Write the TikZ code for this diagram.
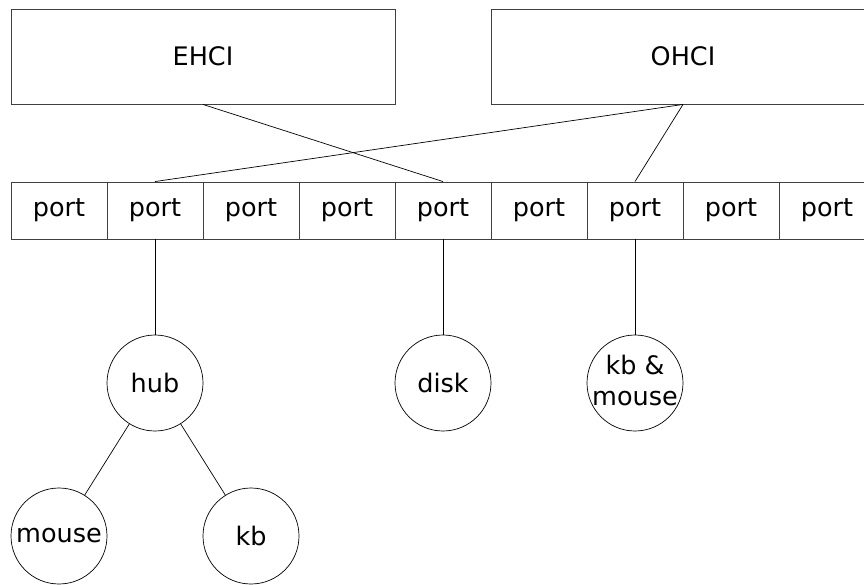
\documentclass[tikz,border=0pt]{standalone}
\usepackage{fontspec}
\setmainfont{DejaVu Sans}
\begin{document}
\begin{tikzpicture}[x=1pt,y=1pt,
  every node/.style={font=\fontsize{25.5}{31}\selectfont},
  hc/.style={draw=black!75,line width=0.9pt,minimum width=384pt,minimum height=95pt,inner sep=0pt},
  portbox/.style={draw=black!75,line width=0.9pt,minimum width=96pt,minimum height=57pt,inner sep=0pt},
  dev/.style={draw=black,line width=0.7pt,circle,minimum size=96pt,inner sep=0pt},
  wire/.style={draw=black,line width=0.7pt}]
\useasboundingbox (0,0) rectangle (864,-584);
\node[hc] (ehci) at (203,-56.5) {EHCI};
\node[hc] (ohci) at (683,-56.5) {OHCI};
\foreach \i in {1,...,9}{
  \node[portbox] (p\i) at ({59+96*(\i-1)},-210.5) {port};
}
\node[dev] (hub) at (155,-383) {hub};
\node[dev] (disk) at (443,-383) {disk};
\node[dev,label={[align=center,yshift=3pt,font=\fontsize{25.5}{31}\selectfont]center:kb \&\\mouse}] (kbm) at (635,-383) {};
\node[dev] (mouse) at (59,-536) {mouse};
\node[dev] (kb) at (251,-536) {kb};
\draw[wire] (ehci.south) -- (p5.north);
\draw[wire] (ohci.south) -- (p2.north);
\draw[wire] (ohci.south) -- (p7.north);
\draw[wire] (p2.south) -- (hub);
\draw[wire] (p5.south) -- (disk);
\draw[wire] (p7.south) -- (kbm);
\draw[wire] (hub) -- (mouse);
\draw[wire] (hub) -- (kb);
\end{tikzpicture}
\end{document}
